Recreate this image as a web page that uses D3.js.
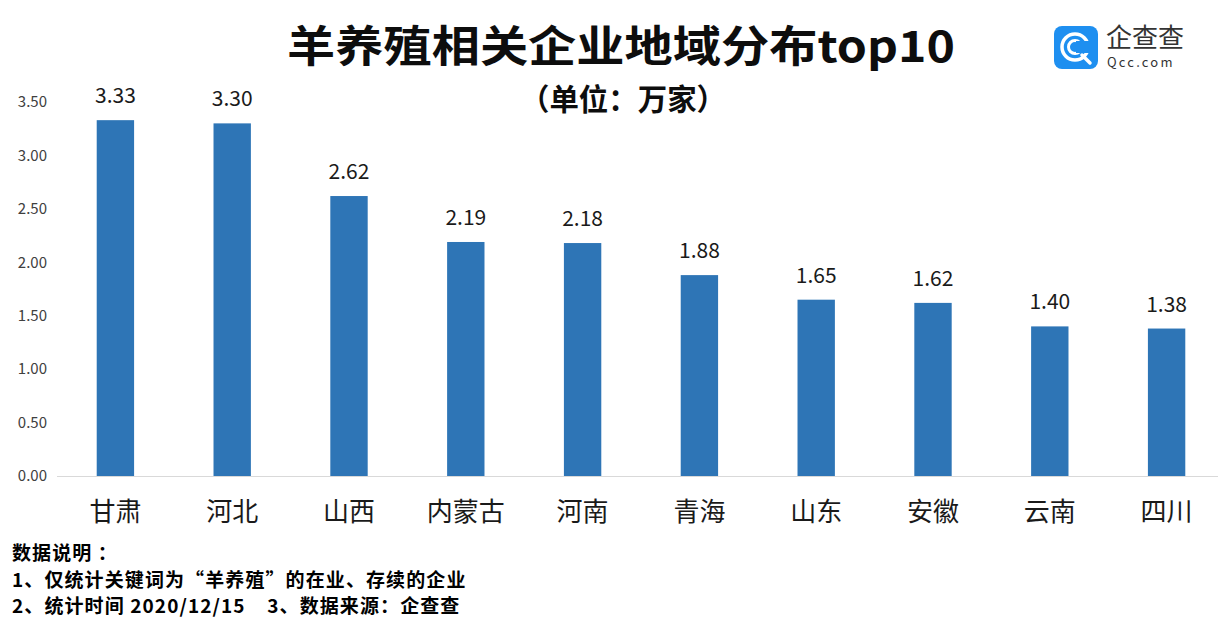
<!DOCTYPE html>
<html><head><meta charset="utf-8">
<script src="https://cdn.jsdelivr.net/npm/d3@7"></script>
<style>body{margin:0;background:#fff}svg{display:block}text{white-space:pre}</style>
</head><body><svg id="c" width="1218" height="641"></svg>
<script>
const categories = ["甘肃","河北","山西","内蒙古","河南","青海","山东","安徽","云南","四川"];
const values = [3.33,3.30,2.62,2.19,2.18,1.88,1.65,1.62,1.40,1.38];
const yTicks = [0,0.5,1,1.5,2,2.5,3,3.5];
const title = "羊养殖相关企业地域分布top10";
const subtitle = "（单位：万家）";
const notes = ["数据说明 ：","1、仅统计关键词为“羊养殖”的在业、存续的企业","2、统计时间 2020/12/15    3、数据来源：企查查"];

const svg = d3.select("#c");
const font = "'Noto Sans CJK SC','Noto Sans',sans-serif";
const x = d3.scaleBand().domain(categories).range([57,1225]).paddingInner(0.68).paddingOuter(0.34);
const y = d3.scaleLinear().domain([0,3.5]).range([476,102]);

// baseline
svg.append("line").attr("x1",57).attr("x2",1218).attr("y1",476.5).attr("y2",476.5)
  .attr("stroke","#d9d9d9").attr("stroke-width",1);

// y tick labels
svg.append("g").selectAll("text").data(yTicks).join("text")
  .attr("x",47).attr("y",d=>y(d)).attr("dy","0.35em").attr("text-anchor","end")
  .attr("font-family",font).attr("font-size",15).attr("fill","#404040")
  .text(d=>d.toFixed(2));

// bars
svg.append("g").selectAll("rect").data(values).join("rect")
  .attr("x",(d,i)=>x(categories[i])).attr("width",x.bandwidth())
  .attr("y",d=>y(d)).attr("height",d=>y(0)-y(d)).attr("fill","#2e75b6");

// value labels
svg.append("g").selectAll("text").data(values).join("text")
  .attr("x",(d,i)=>x(categories[i])+x.bandwidth()/2).attr("y",d=>y(d)-17)
  .attr("text-anchor","middle").attr("font-family",font).attr("font-size",21).attr("fill","#1a1a1a")
  .text(d=>d.toFixed(2));

// category labels
svg.append("g").selectAll("text").data(categories).join("text")
  .attr("x",d=>x(d)+x.bandwidth()/2).attr("y",512).attr("dy","0.35em")
  .attr("text-anchor","middle").attr("font-family",font).attr("font-size",26).attr("fill","#1a1a1a")
  .text(d=>d);

// titles
svg.append("text").attr("x",621).attr("y",62).attr("text-anchor","middle")
  .attr("font-family",font).attr("font-weight","bold").attr("font-size",43)
  .attr("textLength",668).attr("lengthAdjust","spacingAndGlyphs").attr("fill","#0d0d0d").text(title);
svg.append("text").attr("x",623).attr("y",110).attr("text-anchor","middle")
  .attr("font-family",font).attr("font-weight","bold").attr("font-size",30)
  .attr("textLength",206).attr("lengthAdjust","spacingAndGlyphs").attr("fill","#0d0d0d").text(subtitle);

// notes
svg.append("g").selectAll("text").data(notes).join("text")
  .attr("x",12).attr("y",(d,i)=>560+i*26.5).attr("xml:space","preserve")
  .attr("font-family",font).attr("font-weight","bold").attr("font-size",19).attr("letter-spacing",1.1).attr("fill","#000")
  .text(d=>d);

// logo
const lg = svg.append("g").attr("transform","translate(1054,26)");
lg.append("rect").attr("width",44).attr("height",43).attr("rx",8).attr("fill","#1e8ff0");
lg.append("circle").attr("cx",21).attr("cy",21).attr("r",13).attr("fill","none").attr("stroke","#fff").attr("stroke-width",3.5);
lg.append("circle").attr("cx",21).attr("cy",21).attr("r",6.5).attr("fill","none").attr("stroke","#fff").attr("stroke-width",3);
lg.append("rect").attr("x",22).attr("y",15).attr("width",16).attr("height",12).attr("fill","#1e8ff0");
lg.append("line").attr("x1",28).attr("y1",29).attr("x2",36).attr("y2",37).attr("stroke","#fff").attr("stroke-width",3.5).attr("stroke-linecap","round");
svg.append("text").attr("x",1106).attr("y",47).attr("font-family",font).attr("font-size",26).attr("fill","#333").text("企查查");
svg.append("text").attr("x",1107).attr("y",67).attr("font-family",font).attr("font-size",13).attr("letter-spacing","2.2").attr("fill","#333").text("Qcc.com");
</script></body></html>
